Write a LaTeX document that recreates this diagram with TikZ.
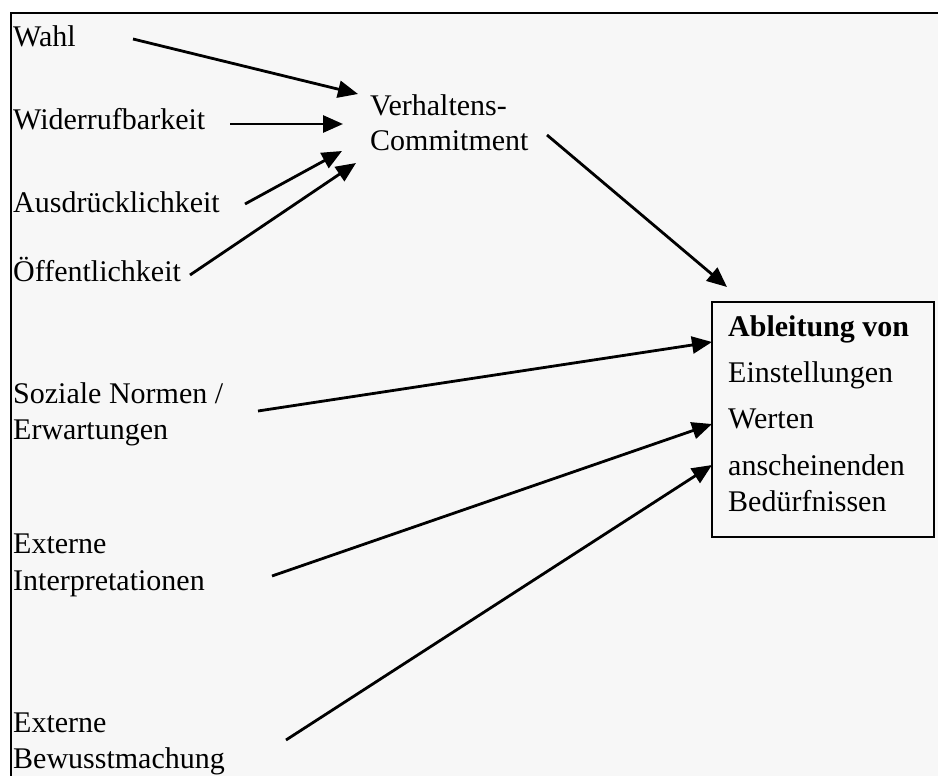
\documentclass[tikz,border=0pt]{standalone}
\usepackage{fontspec}
\setmainfont{Liberation Serif}
\usetikzlibrary{arrows.meta}
\definecolor{bgray}{HTML}{F7F7F7}
\begin{document}
\begin{tikzpicture}[x=1pt,y=-1pt,
  lbl/.style={anchor=base west,inner sep=0pt,font=\fontsize{30}{36}\selectfont},
  conn/.style={line width=2.8pt,-{Triangle[length=20pt,width=17pt]}},
  frame/.style={line width=2.6pt}]
\useasboundingbox (0,0) rectangle (938,776);
\fill[bgray] (11,13) rectangle (938,776);
\draw[frame] (938,13) -- (11,13) -- (11,776);
% left labels
\node[lbl] (wahl) at (13,47) {Wahl};
\node[lbl] (wid) at (13,129) {Widerrufbarkeit};
\node[lbl] (aus) at (13,212) {Ausdrücklichkeit};
\node[lbl] (oef) at (13,281) {Öffentlichkeit};
\node[lbl] (soz1) at (13,403) {Soziale Normen /};
\node[lbl] (soz2) at (13,439) {Erwartungen};
\node[lbl] (int1) at (13,553) {Externe};
\node[lbl] (int2) at (13,590) {Interpretationen};
\node[lbl] (bew1) at (13,732) {Externe};
\node[lbl] (bew2) at (13,768) {Bewusstmachung};
% middle
\node[lbl] (ver1) at (370,115) {Verhaltens-};
\node[lbl] (ver2) at (370,150) {Commitment};
% box
\node[draw,line width=2pt,minimum width=222pt,minimum height=235pt,anchor=north west,inner sep=0pt] (box) at (711,301) {};
\node[lbl,font=\fontsize{30}{36}\selectfont\bfseries] (b1) at (728,336) {Ableitung von};
\node[lbl] (b2) at (728,382) {Einstellungen};
\node[lbl] (b3) at (728,428) {Werten};
\node[lbl] (b4) at (728,475) {anscheinenden};
\node[lbl] (b5) at (728,511) {Bedürfnissen};
% connector endpoints
\coordinate (wahlS) at (133,39);   \coordinate (wahlT) at (358,94);
\coordinate (widS) at (230,124);   \coordinate (widT) at (343,124);
\coordinate (ausS) at (245,204);   \coordinate (ausT) at (342,151);
\coordinate (oefS) at (190,275);   \coordinate (oefT) at (356,163);
\coordinate (comS) at (547,135);   \coordinate (comT) at (727,287);
\coordinate (sozS) at (258,411);   \coordinate (sozT) at (712,342);
\coordinate (intS) at (272,576);   \coordinate (intT) at (712,424);
\coordinate (bewS) at (286,740);   \coordinate (bewT) at (712,465);
\draw[conn] (wahlS) -- (wahlT);
\draw[conn] (widS) -- (widT);
\draw[conn] (ausS) -- (ausT);
\draw[conn] (oefS) -- (oefT);
\draw[conn] (comS) -- (comT);
\draw[conn] (sozS) -- (sozT);
\draw[conn] (intS) -- (intT);
\draw[conn] (bewS) -- (bewT);
\end{tikzpicture}
\end{document}
